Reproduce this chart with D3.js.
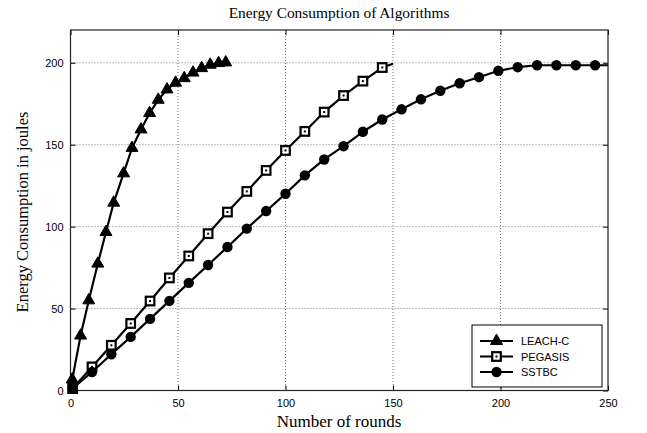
<!DOCTYPE html>
<html><head><meta charset="utf-8">
<script src="https://cdn.jsdelivr.net/npm/d3@7"></script>
<style>body{margin:0;background:#fff}svg{display:block}</style>
</head><body><svg id="c" width="647" height="433"></svg>
<script>
const xTicks = [0, 50, 100, 150, 200, 250];
const yTicks = [0, 50, 100, 150, 200];
const seriesNames = ["LEACH-C", "PEGASIS", "SSTBC"];
const leachX = [0.8, 4.7, 8.5, 12.7, 16.5, 20.1, 24.7, 28.6, 32.8, 36.8, 40.8, 44.9, 48.9, 52.9, 57, 61, 65, 68.9, 72.2];
const leachY = [6.7, 33.5, 55, 77.4, 96.7, 114.6, 132.5, 148, 159.3, 169.3, 177.4, 183.7, 187.8, 190.6, 194, 196.7, 198.8, 199.8, 200.2];
const pegX = [1, 10, 19, 28, 37, 46, 55, 64, 73, 82, 91, 100, 109, 118, 127, 136, 145, 150];
const pegY = [1.2, 14.4, 27.6, 40.9, 54.6, 68.7, 82.1, 95.7, 108.9, 121.5, 134.3, 146.5, 158.1, 169.9, 180, 188.8, 197.1, 199.4];
const sstX = [1, 10, 19, 28, 37, 46, 55, 64, 73, 82, 91, 100, 109, 118, 127, 136, 145, 154, 163, 172, 181, 190, 199, 208, 217, 226, 235, 244, 250];
const sstY = [1.2, 11.3, 22.1, 32.7, 43.7, 54.7, 65.7, 76.6, 87.6, 98.8, 109.5, 120.1, 131.3, 141, 149.1, 157.9, 165.4, 171.6, 177.7, 182.9, 187.5, 191.2, 195.1, 197.3, 198.5, 198.5, 198.5, 198.5, 198.5];
const pegMarked = 17; // markers on first 17 points
const sstMarked = 28;

const svg = d3.select("#c");
const L = 70.5, R = 608, T = 30, B = 390.5;
const x = d3.scaleLinear().domain([0, 250]).range([L, R]);
const y = d3.scaleLinear().domain([0, 220]).range([B, T]);

// grid
const g = svg.append("g");
g.selectAll("line.gx").data(xTicks.slice(1, -1)).join("line")
  .attr("x1", d => x(d)).attr("x2", d => x(d)).attr("y1", T).attr("y2", B)
  .attr("stroke", "#777").attr("stroke-width", 1).attr("stroke-dasharray", "1,2");
g.selectAll("line.gy").data(yTicks.slice(1)).join("line")
  .attr("y1", d => y(d)).attr("y2", d => y(d)).attr("x1", L).attr("x2", R)
  .attr("stroke", "#777").attr("stroke-width", 1).attr("stroke-dasharray", "1,2");

// axes (inward ticks)
const xa = svg.append("g").attr("transform", `translate(0,${B})`)
  .call(d3.axisBottom(x).tickValues(xTicks).tickSize(-5).tickPadding(9).tickFormat(d3.format("d")));
const ya = svg.append("g").attr("transform", `translate(${L},0)`)
  .call(d3.axisLeft(y).tickValues(yTicks).tickSize(-5).tickPadding(7).tickFormat(d3.format("d")));
[xa, ya].forEach(a => {
  a.select(".domain").remove();
  a.selectAll("text").attr("font-family", "Liberation Sans, Arial, sans-serif").attr("font-size", 11).attr("fill", "#000");
  a.selectAll("line").attr("stroke", "#000");
});
// top/right ticks
svg.append("g").attr("transform", `translate(0,${T})`)
  .call(d3.axisTop(x).tickValues(xTicks).tickSize(-5).tickFormat(""))
  .call(a => { a.select(".domain").remove(); a.selectAll("line").attr("stroke", "#000"); });
svg.append("g").attr("transform", `translate(${R},0)`)
  .call(d3.axisRight(y).tickValues(yTicks).tickSize(-5).tickFormat(""))
  .call(a => { a.select(".domain").remove(); a.selectAll("line").attr("stroke", "#000"); });

svg.append("rect").attr("x", L).attr("y", T).attr("width", R - L).attr("height", B - T)
  .attr("fill", "none").attr("stroke", "#222").attr("stroke-width", 1.2);

// series
const line = d3.line().x(d => x(d[0])).y(d => y(d[1]));
const plot = svg.append("g");
function drawMarker(sel, type) {
  if (type === 0) {
    sel.append("path").attr("d", d3.symbol(d3.symbolTriangle, 62)()).attr("fill", "#000").attr("stroke", "#000").attr("stroke-width", 1);
  } else if (type === 1) {
    sel.append("rect").attr("x", -4.3).attr("y", -4.3).attr("width", 8.6).attr("height", 8.6)
      .attr("fill", "#fff").attr("stroke", "#000").attr("stroke-width", 2.2);
    sel.append("rect").attr("x", -1).attr("y", -1).attr("width", 2).attr("height", 2).attr("fill", "#000");
  } else {
    sel.append("circle").attr("r", 5.2).attr("fill", "#000");
  }
}
const series = [
  {xs: leachX, ys: leachY, n: leachX.length, t: 0},
  {xs: pegX, ys: pegY, n: pegMarked, t: 1},
  {xs: sstX, ys: sstY, n: sstMarked, t: 2}
];
series.forEach(s => {
  const pts = s.xs.map((v, i) => [v, s.ys[i]]);
  plot.append("path").datum(pts).attr("d", line).attr("fill", "none").attr("stroke", "#000").attr("stroke-width", 2.2).attr("stroke-linejoin", "round");
  plot.selectAll(null).data(pts.slice(0, s.n)).join("g")
    .attr("transform", d => `translate(${x(d[0])},${y(d[1])})`)
    .each(function() { drawMarker(d3.select(this), s.t); });
});

// legend
const lg = svg.append("g");
lg.append("rect").attr("x", 472).attr("y", 325).attr("width", 130).attr("height", 62)
  .attr("fill", "#fff").attr("stroke", "#000").attr("stroke-width", 1);
seriesNames.forEach((nm, i) => {
  const yy = 341 + i * 15.5;
  lg.append("line").attr("x1", 480).attr("x2", 513).attr("y1", yy).attr("y2", yy).attr("stroke", "#000").attr("stroke-width", 2.2);
  const m = lg.append("g").attr("transform", `translate(496.5,${yy})`);
  drawMarker(m, i);
  lg.append("text").attr("x", 521).attr("y", yy + 4).text(nm)
    .attr("font-family", "Liberation Sans, Arial, sans-serif").attr("font-size", 11);
});

// titles
svg.append("text").attr("x", 339).attr("y", 18).attr("text-anchor", "middle")
  .attr("font-family", "Liberation Serif, Times New Roman, serif").attr("font-size", 15.4).text("Energy Consumption of Algorithms");
svg.append("text").attr("x", 339).attr("y", 427).attr("text-anchor", "middle")
  .attr("font-family", "Liberation Serif, Times New Roman, serif").attr("font-size", 17).text("Number of rounds");
svg.append("text").attr("transform", "translate(28,212) rotate(-90)").attr("text-anchor", "middle")
  .attr("font-family", "Liberation Serif, Times New Roman, serif").attr("font-size", 16.5).text("Energy Consumption in joules");
</script></body></html>
